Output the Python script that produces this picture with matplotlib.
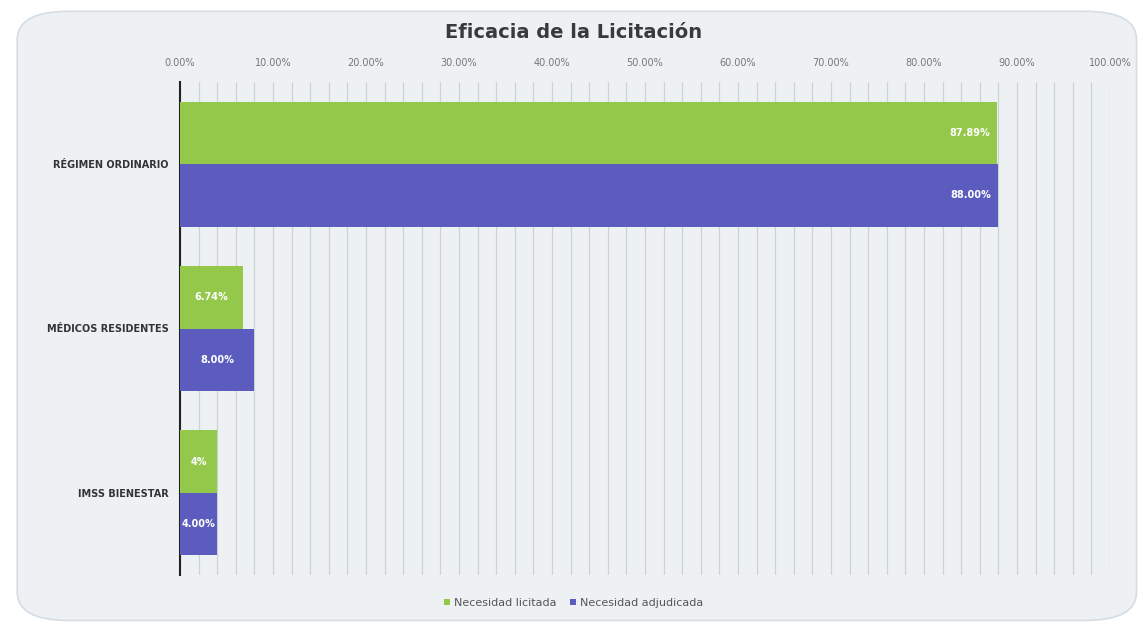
import numpy as np
import matplotlib.pyplot as plt
from matplotlib.patches import FancyBboxPatch
from matplotlib.ticker import MultipleLocator, FuncFormatter

# Datos
categorias = ['RÉGIMEN ORDINARIO', 'MÉDICOS RESIDENTES', 'IMSS BIENESTAR']
licitada = [87.89, 6.74, 4.0]
adjudicada = [88.00, 8.00, 4.00]
etiquetas_licitada = ['87.89%', '6.74%', '4%']
etiquetas_adjudicada = ['88.00%', '8.00%', '4.00%']

verde = '#93C84A'
azul = '#5C5CBF'

fig = plt.figure(figsize=(11.48, 6.28), dpi=100)
fig.patch.set_facecolor('white')

# Fondo redondeado (detrás de todo)
caja = FancyBboxPatch((0.015, 0.012), 0.975, 0.97,
                      boxstyle='round,pad=0,rounding_size=0.045',
                      transform=fig.transFigure, facecolor='#EDF1F4',
                      edgecolor='#D5DCE2', linewidth=1.2, zorder=-10)
fig.add_artist(caja)

ax = fig.add_axes([180 / 1148, 1 - 575 / 628, (1110 - 180) / 1148, (575 - 82) / 628])
ax.set_facecolor('none')
ax.set_zorder(1)

y = np.arange(len(categorias))
h = 0.38
b1 = ax.barh(y - h / 2, licitada, height=h, color=verde, label='Necesidad licitada', zorder=3)
b2 = ax.barh(y + h / 2, adjudicada, height=h, color=azul, label='Necesidad adjudicada', zorder=3)

for barras, textos in ((b1, etiquetas_licitada), (b2, etiquetas_adjudicada)):
    for barra, t in zip(barras, textos):
        w = barra.get_width()
        yc = barra.get_y() + barra.get_height() / 2
        if w > 20:
            ax.text(w - 0.8, yc, t, ha='right', va='center', color='white',
                    fontsize=7, fontweight='bold', zorder=4)
        else:
            ax.text(w / 2, yc, t, ha='center', va='center', color='white',
                    fontsize=7, fontweight='bold', zorder=4)

ax.set_xlim(0, 100)
ax.set_ylim(len(categorias) - 0.5, -0.5)
ax.set_yticks(y)
ax.set_yticklabels(categorias, fontsize=7, fontweight='bold', color='#333333')
ax.tick_params(axis='y', length=0, pad=8)

ax.xaxis.tick_top()
ax.xaxis.set_major_locator(MultipleLocator(10))
ax.xaxis.set_minor_locator(MultipleLocator(2))
ax.xaxis.set_major_formatter(FuncFormatter(lambda v, p: f'{v:.2f}%'))
ax.tick_params(axis='x', length=0, which='both', labelsize=7, colors='#777777', pad=10)
ax.grid(axis='x', which='both', color='#CDD2D7', linewidth=0.9, zorder=0)
ax.set_axisbelow(True)

for s in ['top', 'right', 'bottom']:
    ax.spines[s].set_visible(False)
ax.spines['left'].set_color('#222222')
ax.spines['left'].set_linewidth(1.5)

fig.text(0.5, 1 - 33 / 628, 'Eficacia de la Licitación', ha='center', va='center',
         fontsize=14, fontweight='bold', color='#3A3A3A')

fig.legend(loc='center', bbox_to_anchor=(0.5, 1 - 603 / 628), ncol=2, frameon=False,
           fontsize=8, handlelength=0.5, handleheight=0.5, handletextpad=0.4,
           columnspacing=1.2, labelcolor='#555555')

fig.savefig('out.png', dpi=100)
